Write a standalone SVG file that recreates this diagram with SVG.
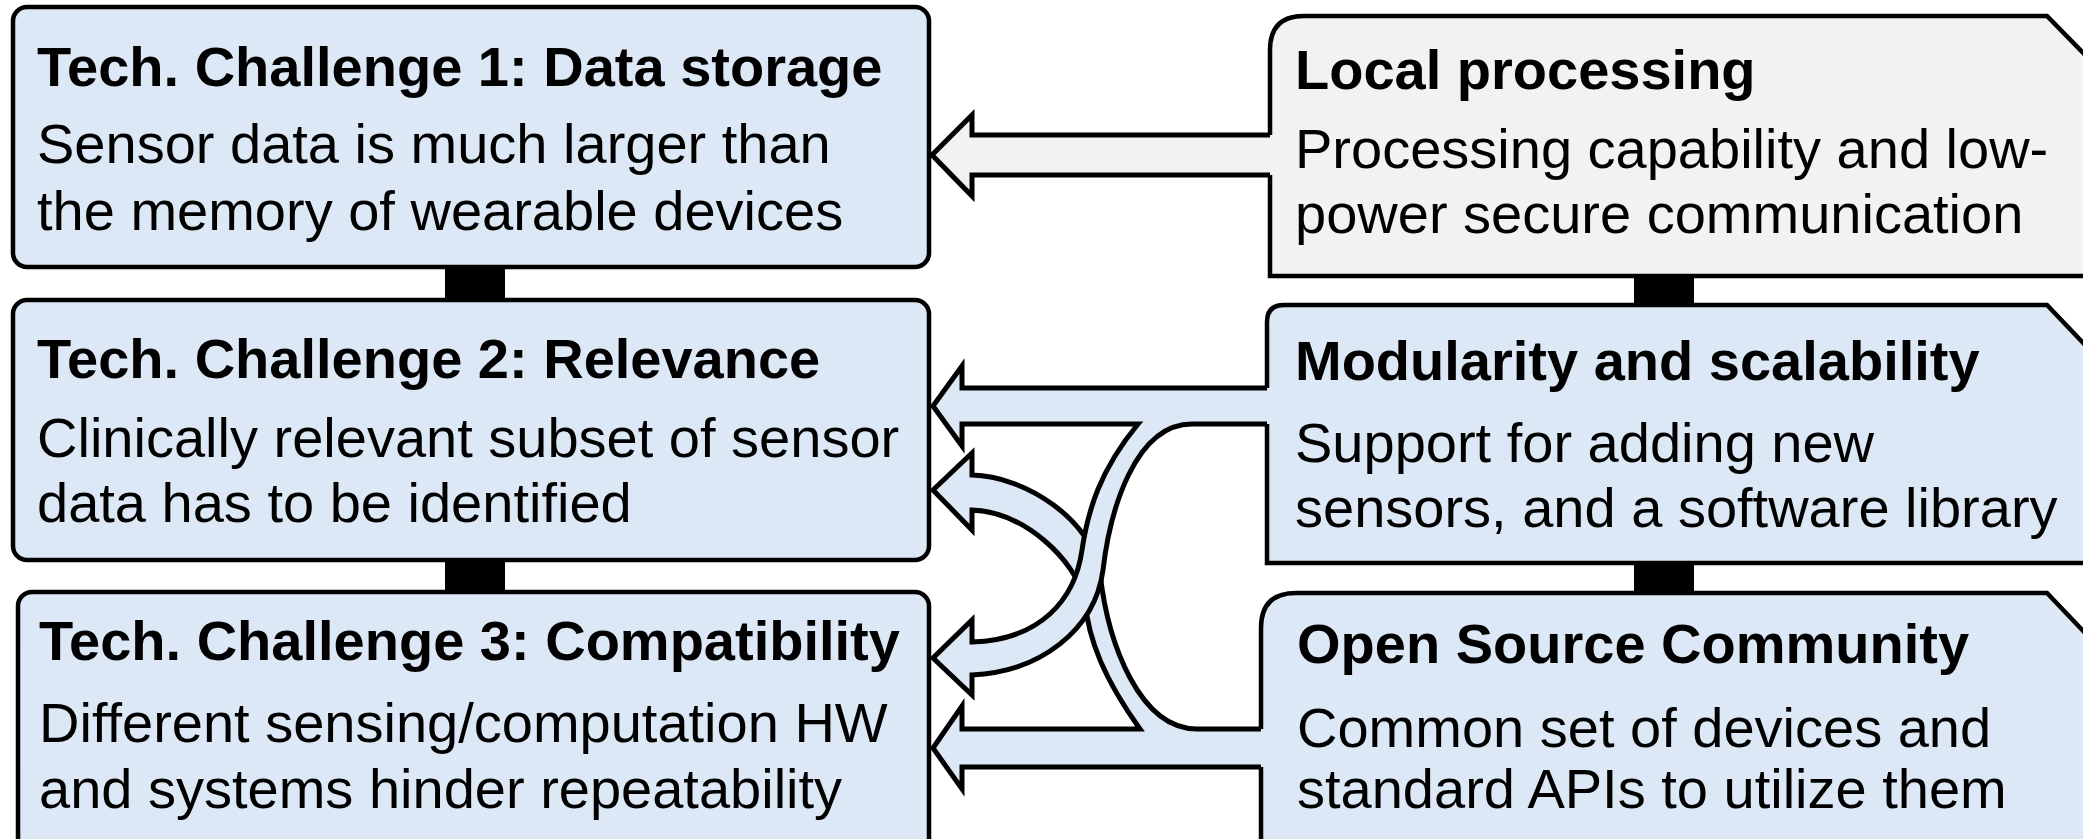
<svg xmlns="http://www.w3.org/2000/svg" width="2083" height="839" viewBox="0 0 2083 839">
<style>
.box{fill:#dce8f5;stroke:#000;stroke-width:4.5}
.gbox{fill:#f2f2f2;stroke:#000;stroke-width:4.5}
.bar{fill:#000}
.t{font-family:"Liberation Sans",Arial,sans-serif;font-size:56px;fill:#000}
.b{font-weight:bold}
.fb{fill:#dce8f5;stroke:none}
.fg{fill:#f2f2f2;stroke:none}
.as{fill:none;stroke:#000;stroke-width:5;stroke-linejoin:miter;stroke-miterlimit:10}
</style>
<g id="challenge1">
<rect class="box" x="13" y="7" width="916" height="260" rx="14"/>
<text class="t b" x="37" y="86">Tech. Challenge 1: Data storage</text>
<text class="t" x="37" y="163">Sensor data is much larger than</text>
<text class="t" x="37" y="230">the memory of wearable devices</text>
</g>
<g id="challenge2">
<rect class="box" x="13" y="300" width="916" height="260" rx="14"/>
<text class="t b" x="37" y="378">Tech. Challenge 2: Relevance</text>
<text class="t" x="37" y="457">Clinically relevant subset of sensor</text>
<text class="t" x="37" y="522">data has to be identified</text>
</g>
<g id="challenge3">
<rect class="box" x="18" y="592" width="911" height="280" rx="14"/>
<text class="t b" x="39" y="660">Tech. Challenge 3: Compatibility</text>
<text class="t" x="39" y="742">Different sensing/computation HW</text>
<text class="t" x="39" y="808">and systems hinder repeatability</text>
</g>
<g id="local">
<path class="gbox" d="M1270,276 L1270,50 Q1270,16 1304,16 L2047,16 L2090,60 L2090,276 Z"/>
<text class="t b" x="1295" y="89">Local processing</text>
<text class="t" x="1295" y="168">Processing capability and low-</text>
<text class="t" x="1295" y="233">power secure communication</text>
</g>
<g id="modularity">
<path class="box" d="M1267,563 L1267,322 Q1267,305 1284,305 L2047,305 L2090,350 L2090,563 Z"/>
<text class="t b" x="1295" y="380">Modularity and scalability</text>
<text class="t" x="1295" y="462">Support for adding new</text>
<text class="t" x="1295" y="527">sensors, and a software library</text>
</g>
<g id="opensource">
<path class="box" d="M1261,870 L1261,628 Q1261,593 1296,593 L2047,593 L2090,638 L2090,870 Z"/>
<text class="t b" x="1297" y="663">Open Source Community</text>
<text class="t" x="1297" y="747">Common set of devices and</text>
<text class="t" x="1297" y="808">standard APIs to utilize them</text>
</g>
<g id="connectors">
<rect class="bar" x="445" y="265" width="60" height="37"/>
<rect class="bar" x="445" y="558" width="60" height="36"/>
<rect class="bar" x="1634" y="274" width="60" height="33"/>
<rect class="bar" x="1634" y="561" width="60" height="34"/>
<path class="fg" d="M1274,135 L972,135 L972,115 L932,155 L972,196 L972,175 L1274,175 Z"/>
<path class="as" d="M1270,135 L972,135 L972,115 L932,155 L972,196 L972,175 L1270,175"/>
<path class="fb" d="M1265,767 L962,767 L962,789 L933,748 L962,706 L962,729 L1140,729 C1105,680 1088,640 1085,600 C1075,560 1025,512 972,510 L972,530 L933,490 L972,453 L972,475 C1025,476 1092,520 1100,573 C1108,645 1140,729 1197,729 L1265,729 Z"/>
<path class="as" d="M1261,767 L962,767 L962,789 L933,748 L962,706 L962,729 L1140,729 C1105,680 1088,640 1085,600 C1075,560 1025,512 972,510 L972,530 L933,490 L972,453 L972,475 C1025,476 1092,520 1100,573 C1108,645 1140,729 1197,729 L1261,729"/>
<path class="fb" d="M1271,388 L962,388 L962,366 L933,406 L962,446 L962,424 L1138,424 C1100,470 1088,510 1082,550 C1075,600 1040,640 972,642 L972,620 L933,658 L972,695 L972,675 C1040,672 1095,630 1103,570 C1110,510 1135,424 1192,424 L1271,424 Z"/>
<path class="as" d="M1267,388 L962,388 L962,366 L933,406 L962,446 L962,424 L1138,424 C1100,470 1088,510 1082,550 C1075,600 1040,640 972,642 L972,620 L933,658 L972,695 L972,675 C1040,672 1095,630 1103,570 C1110,510 1135,424 1192,424 L1267,424"/>
</g>
</svg>
